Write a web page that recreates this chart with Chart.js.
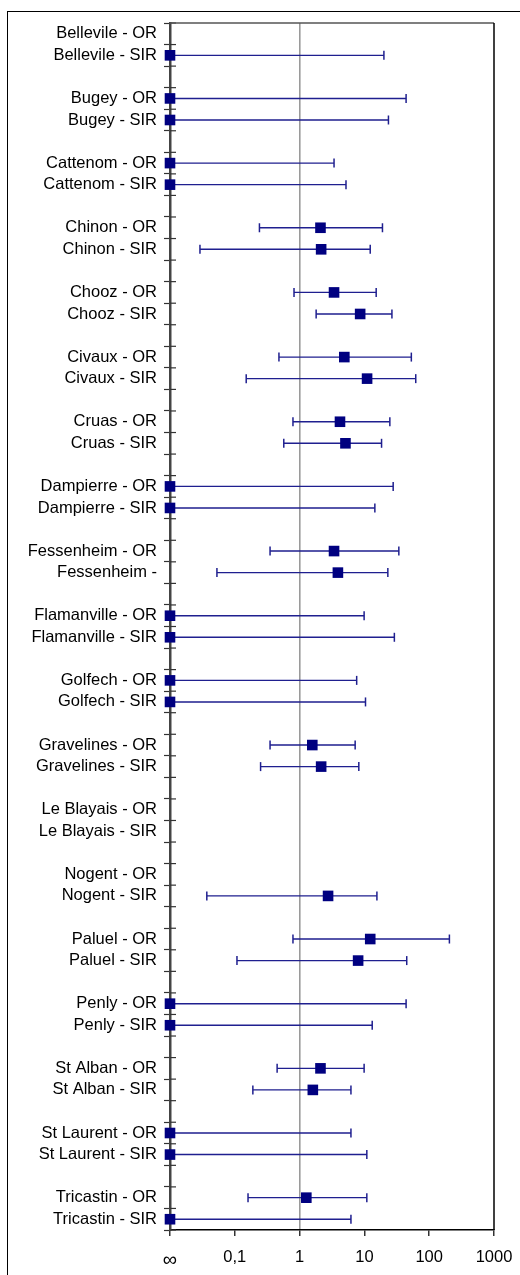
<!DOCTYPE html>
<html>
<head>
<meta charset="utf-8">
<script src="https://cdn.jsdelivr.net/npm/chart.js@4/dist/chart.umd.min.js"></script>
<style>
  html, body { margin: 0; padding: 0; background: #fff; overflow: hidden; }
  #frame { position: absolute; left: 7px; top: 11px; width: 700px; height: 1400px; border: 1px solid #000; }
  #chart { position: absolute; left: 0; top: 0; }
</style>
</head>
<body>
<div id="frame"></div>
<canvas id="chart" width="520" height="1275"></canvas>
<script>
// Row labels (blank rows separate the plants)
const yLabels = [
  "Bellevile - OR", "Bellevile - SIR", "",
  "Bugey - OR", "Bugey - SIR", "",
  "Cattenom - OR", "Cattenom - SIR", "",
  "Chinon - OR", "Chinon - SIR", "",
  "Chooz - OR", "Chooz - SIR", "",
  "Civaux - OR", "Civaux - SIR", "",
  "Cruas - OR", "Cruas - SIR", "",
  "Dampierre - OR", "Dampierre - SIR", "",
  "Fessenheim - OR", "Fessenheim -", "",
  "Flamanville - OR", "Flamanville - SIR", "",
  "Golfech - OR", "Golfech - SIR", "",
  "Gravelines - OR", "Gravelines - SIR", "",
  "Le Blayais - OR", "Le Blayais - SIR", "",
  "Nogent - OR", "Nogent - SIR", "",
  "Paluel - OR", "Paluel - SIR", "",
  "Penly - OR", "Penly - SIR", "",
  "St Alban - OR", "St Alban - SIR", "",
  "St Laurent - OR", "St Laurent - SIR", "",
  "Tricastin - OR", "Tricastin - SIR"
];

// Estimates and confidence limits, in row order (OR, SIR per plant); null = no value
const estimate = [
  null, 0,  0, 0,  0, 0,  2.1, 2.15,  3.4, 8.6,  4.9, 11,  4.2, 5.1,  0, 0,
  3.4, 3.9,  0, 0,  0, 0,  1.57, 2.15,  null, null,  null, 2.75,  12.3, 8.0,
  0, 0,  2.1, 1.6,  0, 0,  1.27, 0
];
const lower = [
  null, 0,  0, 0,  0, 0,  0.24, 0.029,  0.82, 1.8,  0.48, 0.15,  0.79, 0.57,  0, 0,
  0.35, 0.053,  0, 0,  0, 0,  0.35, 0.25,  null, null,  null, 0.037,  0.79, 0.108,
  0, 0,  0.45, 0.19,  0, 0,  0.16, 0
];
const upper = [
  null, 20,  44, 23.5,  3.4, 5.2,  19, 12.3,  15.2, 26.6,  53, 62,  24.7, 18.4,  27.8, 14.5,
  34, 23,  9.9, 29,  7.6, 10.4,  7.2, 8.2,  null, null,  null, 15.6,  205, 45,
  44, 13.2,  9.9, 6.2,  6.2, 10.9,  10.9, 6.2
];

const xTicks = [0.01, 0.1, 1, 10, 100, 1000];
const xTickLabels = ["\u221E", "0,1", "1", "10", "100", "1000"];

const xMin = xTicks[0], xMax = xTicks[xTicks.length - 1];
const rowLabel = (k) => yLabels[Math.floor(k / 2) * 3 + (k % 2)];

const points = [];
const whiskers = [];
estimate.forEach((v, k) => {
  if (v !== null) points.push({ x: Math.max(v, xMin), y: rowLabel(k) });
  if (upper[k] !== null) {
    whiskers.push({ x: Math.max(lower[k], xMin), y: rowLabel(k) });
    whiskers.push({ x: upper[k], y: rowLabel(k) });
    whiskers.push({ x: null, y: null });
  }
});

const navy = "#000080";
const family = "'Liberation Sans', Arial, sans-serif";
const font = { family: family, size: 16.5 };

// inner half of the y tick marks, and top/right frame of the plot
const framePlugin = {
  id: "frame",
  beforeDatasetsDraw(chart) {
    const { ctx, chartArea: a, scales } = chart;
    const y = scales.y;
    ctx.save();
    ctx.strokeStyle = "#333";
    ctx.lineWidth = 1.2;
    for (let i = 0; i <= yLabels.length; i++) {
      const py = y.getPixelForValue(i - 0.5);
      ctx.beginPath();
      ctx.moveTo(a.left, py);
      ctx.lineTo(a.left + 6, py);
      ctx.stroke();
    }
    ctx.strokeStyle = "#555";
    ctx.lineWidth = 1.5;
    ctx.beginPath();
    ctx.moveTo(a.left, a.top);
    ctx.lineTo(a.right, a.top);
    ctx.stroke();
    ctx.strokeStyle = "#000";
    ctx.beginPath();
    ctx.moveTo(a.right, a.top);
    ctx.lineTo(a.right, a.bottom);
    ctx.stroke();
    ctx.restore();
  }
};

new Chart(document.getElementById("chart"), {
  type: "scatter",
  data: {
    datasets: [
      {
        data: points,
        pointStyle: "rect",
        radius: 7.5,
        backgroundColor: navy,
        borderColor: navy,
        borderWidth: 0,
        clip: false
      },
      {
        data: whiskers,
        showLine: true,
        spanGaps: false,
        borderColor: "#1f1f8f",
        borderWidth: 1.4,
        pointStyle: "line",
        rotation: 90,
        radius: 4.5,
        pointBorderColor: "#1f1f8f",
        pointBorderWidth: 1.5,
        clip: false
      }
    ]
  },
  options: {
    responsive: false,
    animation: false,
    layout: { padding: { top: 23, right: 26, left: 0, bottom: 0 } },
    plugins: { legend: { display: false }, tooltip: { enabled: false } },
    scales: {
      x: {
        type: "logarithmic",
        min: xMin,
        max: xMax,
        afterBuildTicks: (s) => { s.ticks = xTicks.map((v) => ({ value: v })); },
        afterFit: (s) => { s.height = 45; s.paddingLeft = 0; s.paddingRight = 0; },
        ticks: {
          color: "#000",
          font: (c) => ({ family: family, size: c.index === 0 ? 20 : 16.5 }),
          padding: 12,
          maxRotation: 0,
          autoSkip: false,
          callback: (v) => xTickLabels[xTicks.indexOf(v)]
        },
        grid: {
          color: (c) => (c.tick && c.tick.value === 1 ? "#9a9a9a" : "rgba(0,0,0,0)"),
          lineWidth: 1.6,
          tickColor: "#000",
          tickLength: 6,
          tickWidth: 1.2
        },
        border: { color: "#000", width: 1.5 }
      },
      y: {
        type: "category",
        labels: yLabels,
        offset: true,
        afterFit: (s) => { s.width = 170; s.paddingTop = 0; s.paddingBottom = 0; },
        ticks: { color: "#000", font: font, padding: 7, autoSkip: false },
        grid: {
          offset: true,
          drawOnChartArea: false,
          tickColor: "#333",
          tickLength: 6,
          tickWidth: 1.2
        },
        border: { color: "#444", width: 2.5 }
      }
    }
  },
  plugins: [framePlugin]
});
</script>
</body>
</html>
